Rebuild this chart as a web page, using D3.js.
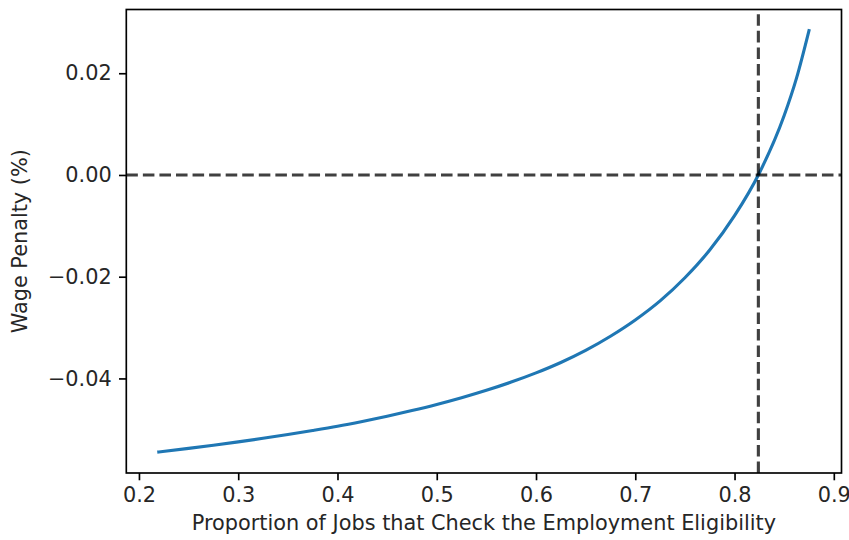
<!DOCTYPE html>
<html>
<head>
<meta charset="utf-8">
<script src="https://cdn.jsdelivr.net/npm/d3@7"></script>
<style>
  html, body { margin: 0; padding: 0; background: #fff; }
  svg { display: block; }
  text { font-family: "DejaVu Sans", sans-serif; fill: #262626; }
</style>
</head>
<body>
<svg id="chart" width="849" height="540"></svg>
<script>
// ---- data ----
const proportion = [0.22, 0.25, 0.275, 0.30, 0.325, 0.35, 0.375, 0.40, 0.425, 0.45, 0.475, 0.50,
  0.525, 0.55, 0.575, 0.60, 0.625, 0.65, 0.675, 0.70, 0.725, 0.75, 0.775, 0.80, 0.825, 0.85, 0.8625, 0.875];
const wagePenalty = [-0.05445, -0.05375, -0.05313, -0.05247, -0.05177, -0.05103, -0.05024, -0.04940,
  -0.04845, -0.04743, -0.04632, -0.04512, -0.04380, -0.04234, -0.04072, -0.03891, -0.03686, -0.03449,
  -0.03171, -0.02851, -0.02476, -0.02021, -0.01476, -0.00801, 0.00039, 0.01169, 0.01909, 0.02839];
const thresholdX = 0.824;
const thresholdY = 0.0;
const xTicks = [0.2, 0.3, 0.4, 0.5, 0.6, 0.7, 0.8, 0.9];
const yTicks = [-0.04, -0.02, 0.00, 0.02];
const xLabel = "Proportion of Jobs that Check the Employment Eligibility";
const yLabel = "Wage Penalty (%)";

// ---- layout ----
const W = 849, H = 540;
const margin = { left: 126.3, top: 9.5, right: 7.5, bottom: 67 };
const iw = W - margin.left - margin.right;
const ih = H - margin.top - margin.bottom;
const px = 150 / 72; // points -> pixels
const fontSize = 10 * px;

const svg = d3.select("#chart");
const g = svg.append("g").attr("transform", `translate(${margin.left},${margin.top})`);

function padded(ext) { const s = ext[1] - ext[0]; return [ext[0] - 0.05 * s, ext[1] + 0.05 * s]; }
const x = d3.scaleLinear().domain(padded(d3.extent(proportion))).range([0, iw]);
const y = d3.scaleLinear().domain(padded(d3.extent(wagePenalty))).range([ih, 0]);

svg.append("defs").append("clipPath").attr("id", "clip")
  .append("rect").attr("width", iw).attr("height", ih);

const plot = g.append("g").attr("clip-path", "url(#clip)");
const data = proportion.map((p, i) => [p, wagePenalty[i]]);
plot.append("path")
  .datum(data)
  .attr("fill", "none")
  .attr("stroke", "#1f77b4")
  .attr("stroke-width", 1.5 * px)
  .attr("stroke-linecap", "square")
  .attr("d", d3.line().x(d => x(d[0])).y(d => y(d[1])).curve(d3.curveMonotoneX));

const dash = `${3.7 * 1.5 * px},${1.6 * 1.5 * px}`;
plot.append("line")
  .attr("x1", 0).attr("x2", iw)
  .attr("y1", y(thresholdY)).attr("y2", y(thresholdY))
  .attr("stroke", "#000").attr("stroke-opacity", 0.75)
  .attr("stroke-width", 1.5 * px).attr("stroke-dasharray", dash);
plot.append("line")
  .attr("x1", x(thresholdX)).attr("x2", x(thresholdX))
  .attr("y1", ih).attr("y2", 0)
  .attr("stroke", "#000").attr("stroke-opacity", 0.75)
  .attr("stroke-width", 1.5 * px).attr("stroke-dasharray", dash);

// ---- axes ----
const fmtX = d3.format(".1f");
const fmtY = v => (v < 0 ? "\u2212" : "") + Math.abs(v).toFixed(2);

const xAxis = g.append("g").attr("transform", `translate(0,${ih})`)
  .call(d3.axisBottom(x).tickValues(xTicks).tickFormat(fmtX).tickSize(3.5 * px).tickPadding(3.5 * px));
const yAxis = g.append("g")
  .call(d3.axisLeft(y).tickValues(yTicks).tickFormat(fmtY).tickSize(3.5 * px).tickPadding(3.5 * px));

[xAxis, yAxis].forEach(a => {
  a.select(".domain").remove();
  a.selectAll(".tick line").attr("stroke", "#000").attr("stroke-width", 0.8 * px);
  a.selectAll(".tick text")
    .attr("font-family", "DejaVu Sans, sans-serif")
    .attr("font-size", fontSize)
    .attr("fill", "#262626");
});

// spines
g.append("rect")
  .attr("x", 0).attr("y", 0).attr("width", iw).attr("height", ih)
  .attr("fill", "none").attr("stroke", "#000").attr("stroke-width", 0.8 * px);

// labels
g.append("text")
  .attr("x", iw / 2).attr("y", ih + 57)
  .attr("text-anchor", "middle")
  .attr("font-size", fontSize)
  .text(xLabel);

g.append("text")
  .attr("transform", `translate(${-margin.left + 27},${ih / 2}) rotate(-90)`)
  .attr("text-anchor", "middle")
  .attr("font-size", fontSize)
  .text(yLabel);
</script>
</body>
</html>
